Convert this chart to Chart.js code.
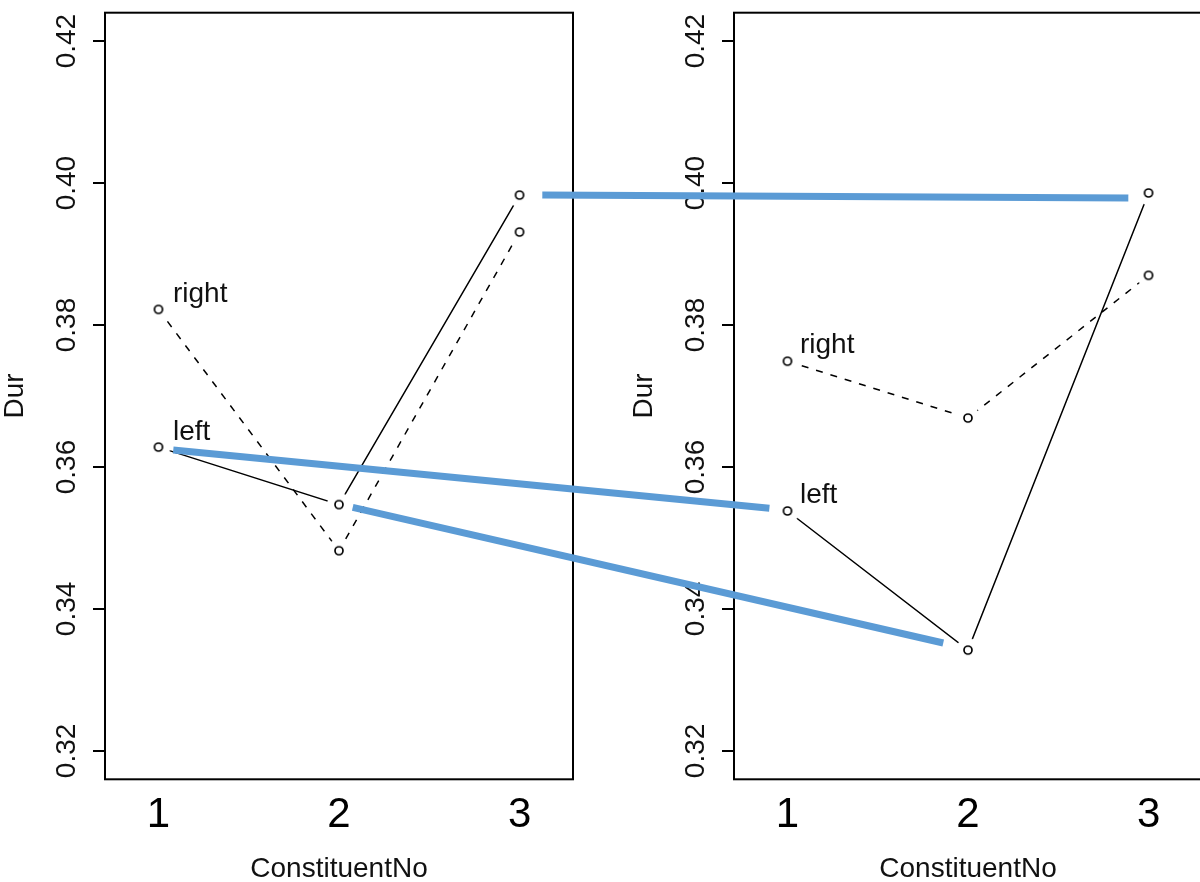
<!DOCTYPE html>
<html>
<head>
<meta charset="utf-8">
<script src="https://cdn.jsdelivr.net/npm/chart.js@4"></script>
<style>
html,body{margin:0;padding:0;overflow:hidden;background:#fff;width:1200px;height:882px;}
canvas{position:absolute;top:0;}
#leftPanel{left:0;}
#rightPanel{left:629px;}
#overlay{left:0;pointer-events:none;}
</style>
</head>
<body>
<canvas id="leftPanel" width="600" height="882"></canvas>
<canvas id="rightPanel" width="600" height="882"></canvas>
<canvas id="overlay" width="1229" height="882"></canvas>
<script>
// ---------- data ----------
const CATEGORIES = [1, 2, 3];
const X_TICK_LABELS = ['1', '2', '3'];
const Y_TICKS = [0.32, 0.34, 0.36, 0.38, 0.40, 0.42];
const Y_TICK_LABELS = ['0.32', '0.34', '0.36', '0.38', '0.40', '0.42'];
const SERIES_NAMES = ['left', 'right'];
const X_TITLE = 'ConstituentNo';
const Y_TITLE = 'Dur';

// left panel
const PANEL1_LEFT = [0.3628, 0.3547, 0.3983];
const PANEL1_RIGHT = [0.3822, 0.3482, 0.3931];
// right panel
const PANEL2_LEFT = [0.3538, 0.3342, 0.3986];
const PANEL2_RIGHT = [0.3749, 0.3669, 0.3870];

// blue connector lines: start in left panel, end in right panel (data units)
const LINK_FROM_X = [1.082, 2.076, 3.126];
const LINK_FROM_Y = [0.3624, 0.3543, 0.3983];
const LINK_TO_X = [0.900, 1.863, 2.888];
const LINK_TO_Y = [0.3542, 0.3352, 0.3979];

// ---------- layout / style ----------
const XMIN = 0.704, XMAX = 3.296;
const YMIN = 0.316, YMAX = 0.424;
const PANEL_W = 600, PANEL_H = 882;
const PLOT_LEFT = 105, PLOT_RIGHT_PAD = 27, PLOT_TOP = 12.7, AXIS_BOTTOM = 102.7;
const PANEL_SHIFT_PX = 629;
const FONT = 'Liberation Sans, Arial, sans-serif';
const TEXT_COLOR = '#111';
const BLUE = '#5B9BD5';

function makePointImage() {
  const c = document.createElement('canvas');
  c.width = 28; c.height = 28;
  const g = c.getContext('2d');
  g.fillStyle = '#fff';
  g.beginPath(); g.arc(14, 14, 12, 0, Math.PI * 2); g.fill();
  g.strokeStyle = '#000'; g.lineWidth = 1.7;
  g.beginPath(); g.arc(14, 14, 4, 0, Math.PI * 2); g.stroke();
  return c;
}
const PT = makePointImage();

const boxPlugin = {
  id: 'box',
  beforeDatasetsDraw(chart) {
    const a = chart.chartArea, ctx = chart.ctx;
    ctx.save();
    ctx.strokeStyle = '#000';
    ctx.lineWidth = 2;
    ctx.strokeRect(a.left, a.top, a.right - a.left, a.bottom - a.top);
    ctx.restore();
  }
};

const seriesTextPlugin = {
  id: 'seriesText',
  afterDatasetsDraw(chart, args, opts) {
    const ctx = chart.ctx;
    ctx.save();
    ctx.font = '28px ' + FONT;
    ctx.fillStyle = TEXT_COLOR;
    ctx.textAlign = 'left';
    ctx.textBaseline = 'alphabetic';
    chart.data.datasets.forEach((ds, i) => {
      const p = chart.getDatasetMeta(i).data[0];
      ctx.fillText(ds.label, p.x + opts.dx, p.y + opts.dy);
    });
    ctx.restore();
  }
};

function panelConfig(leftVals, rightVals, dx, dy) {
  const mk = (vals) => CATEGORIES.map((c, i) => ({ x: c, y: vals[i] }));
  return {
    type: 'line',
    data: {
      datasets: [
        { label: SERIES_NAMES[0], data: mk(leftVals), borderColor: '#000', borderWidth: 1.5,
          pointStyle: PT, pointRadius: 4, tension: 0, fill: false },
        { label: SERIES_NAMES[1], data: mk(rightVals), borderColor: '#000', borderWidth: 1.5,
          borderDash: [7, 8], pointStyle: PT, pointRadius: 4, tension: 0, fill: false }
      ]
    },
    options: {
      responsive: false, animation: false, devicePixelRatio: 1,
      layout: { padding: { top: PLOT_TOP, right: PLOT_RIGHT_PAD, left: 0, bottom: 0 } },
      plugins: { legend: { display: false }, tooltip: { enabled: false },
                 seriesText: { dx: dx, dy: dy } },
      scales: {
        x: {
          type: 'linear', min: XMIN, max: XMAX,
          afterBuildTicks: s => { s.ticks = CATEGORIES.map(v => ({ value: v })); },
          afterFit: s => { s.height = AXIS_BOTTOM; },
          grid: { display: false, drawTicks: false },
          border: { display: false },
          ticks: { autoSkip: false, maxRotation: 0, minRotation: 0, padding: 15, color: '#000',
                   font: { family: FONT, size: 42, lineHeight: 1 },
                   callback: v => X_TICK_LABELS[CATEGORIES.indexOf(v)] },
          title: { display: true, text: X_TITLE, color: TEXT_COLOR, padding: 0,
                   font: { family: FONT, size: 28, lineHeight: 0.92 } }
        },
        y: {
          type: 'linear', min: YMIN, max: YMAX,
          afterBuildTicks: s => { s.ticks = Y_TICKS.map(v => ({ value: v })); },
          afterFit: s => { s.width = PLOT_LEFT; },
          grid: { display: true, drawOnChartArea: false, drawTicks: true, tickLength: 12,
                  color: '#000', lineWidth: 2 },
          border: { display: false },
          ticks: { autoSkip: false, minRotation: 90, maxRotation: 90, crossAlign: 'center',
                   padding: -2, color: TEXT_COLOR, font: { family: FONT, size: 28, lineHeight: 1 },
                   callback: v => Y_TICK_LABELS[Y_TICKS.findIndex(t => Math.abs(t - v) < 1e-9)] },
          title: { display: true, text: Y_TITLE, color: TEXT_COLOR, padding: { top: 1, bottom: 0 },
                   font: { family: FONT, size: 28, lineHeight: 1 } }
        }
      }
    },
    plugins: [boxPlugin, seriesTextPlugin]
  };
}

new Chart(document.getElementById('leftPanel'), panelConfig(PANEL1_LEFT, PANEL1_RIGHT, 14.5, -7));
new Chart(document.getElementById('rightPanel'), panelConfig(PANEL2_LEFT, PANEL2_RIGHT, 12.5, -8));

// overlay with connector lines spanning both panels
const plotW = PANEL_W - PLOT_LEFT - PLOT_RIGHT_PAD;
const pxPerUnit = plotW / (XMAX - XMIN);
const overlayW = PANEL_SHIFT_PX + PANEL_W;
const overlayAreaW = overlayW - PLOT_LEFT - PLOT_RIGHT_PAD;
const SHIFT_UNITS = PANEL_SHIFT_PX / pxPerUnit;

new Chart(document.getElementById('overlay'), {
  type: 'line',
  data: {
    datasets: LINK_FROM_X.map((fx, i) => ({
      data: [{ x: fx, y: LINK_FROM_Y[i] }, { x: LINK_TO_X[i] + SHIFT_UNITS, y: LINK_TO_Y[i] }],
      borderColor: BLUE, borderWidth: 7, pointRadius: 0, borderCapStyle: 'butt',
      tension: 0, fill: false, clip: false
    }))
  },
  options: {
    responsive: false, animation: false, devicePixelRatio: 1,
    layout: { padding: { left: PLOT_LEFT, right: PLOT_RIGHT_PAD, top: PLOT_TOP, bottom: AXIS_BOTTOM } },
    plugins: { legend: { display: false }, tooltip: { enabled: false } },
    scales: {
      x: { type: 'linear', display: false, min: XMIN, max: XMIN + overlayAreaW / pxPerUnit },
      y: { type: 'linear', display: false, min: YMIN, max: YMAX }
    }
  }
});
</script>
</body>
</html>
